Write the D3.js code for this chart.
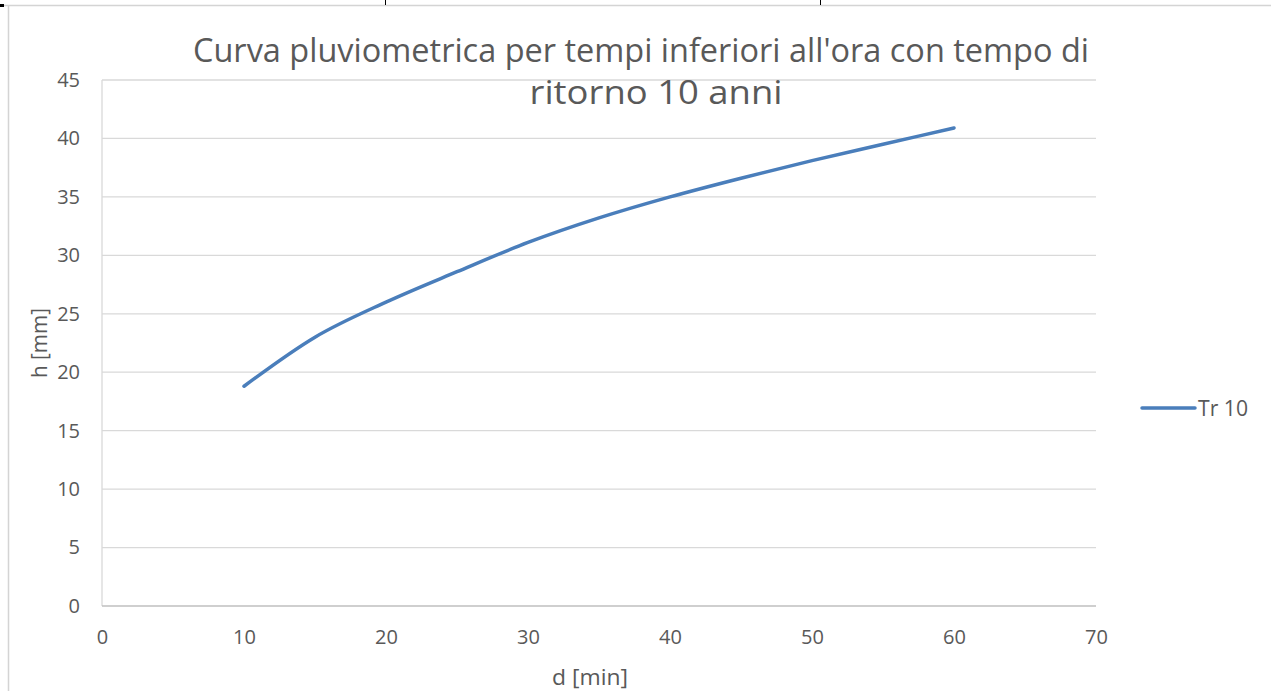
<!DOCTYPE html>
<html>
<head>
<meta charset="utf-8">
<script src="https://cdn.jsdelivr.net/npm/d3@7"></script>
<style>
  body { margin: 0; background: #fff; }
  text { font-family: "Open Sans", "Noto Sans", sans-serif; fill: #595959; }
</style>
</head>
<body>
<script>
// data
var durations = [10, 15, 20, 25, 30, 35, 40, 45, 50, 55, 60];
var heights = [18.8, 23.0, 26.0, 28.6, 31.1, 33.2, 35.0, 36.6, 38.1, 39.5, 40.9];
var xTicks = [0, 10, 20, 30, 40, 50, 60, 70];
var yTicks = [0, 5, 10, 15, 20, 25, 30, 35, 40, 45];
var seriesName = "Tr 10";
var titleLines = ["Curva pluviometrica per tempi inferiori all'ora con tempo di", "ritorno 10 anni"];

var W = 1271, H = 691;
var svg = d3.select("body").append("svg")
  .attr("width", W)
  .attr("height", H);

// cell borders behind the chart
svg.append("line").attr("x1", 0).attr("x2", W).attr("y1", 5.5).attr("y2", 5.5)
  .attr("stroke", "#d4d4d4").attr("stroke-width", 1.5);
svg.append("line").attr("x1", 8.5).attr("x2", 8.5).attr("y1", 5).attr("y2", H)
  .attr("stroke", "#d4d4d4").attr("stroke-width", 1.5);
svg.append("rect").attr("x", 0).attr("y", 4).attr("width", 4).attr("height", 3).attr("fill", "#000");
[385, 820].forEach(function (x) {
  svg.append("line").attr("x1", x + 0.5).attr("x2", x + 0.5).attr("y1", 0).attr("y2", 5)
    .attr("stroke", "#000").attr("stroke-width", 1);
});

var x = d3.scaleLinear().domain([0, 70]).range([102, 1096]);
var y = d3.scaleLinear().domain([0, 45]).range([606, 80]);

// gridlines
svg.append("g").selectAll("line")
  .data(yTicks.slice(1))
  .enter().append("line")
  .attr("x1", x(0)).attr("x2", x(70))
  .attr("y1", function (d) { return y(d); })
  .attr("y2", function (d) { return y(d); })
  .attr("stroke", "#d9d9d9").attr("stroke-width", 1.3);

// axes lines
svg.append("line").attr("x1", x(0)).attr("x2", x(0)).attr("y1", y(0)).attr("y2", y(45))
  .attr("stroke", "#d9d9d9").attr("stroke-width", 1.3);
svg.append("line").attr("x1", x(0)).attr("x2", x(70)).attr("y1", y(0)).attr("y2", y(0))
  .attr("stroke", "#bfbfbf").attr("stroke-width", 1.3);

// tick labels
var xAxis = d3.axisBottom(x).tickValues(xTicks).tickSize(0).tickPadding(24);
var gx = svg.append("g").attr("transform", "translate(0," + y(0) + ")").call(xAxis);
gx.select(".domain").remove();

var yAxis = d3.axisLeft(y).tickValues(yTicks).tickSize(0).tickPadding(22);
var gy = svg.append("g").attr("transform", "translate(" + x(0) + ",0)").call(yAxis);
gy.select(".domain").remove();

gx.attr("font-family", null);
gy.attr("font-family", null);
svg.selectAll(".tick text").style("font-size", "20px").attr("fill", "#595959");

// series line
var pts = durations.map(function (d, i) { return [d, heights[i]]; });
var line = d3.line()
  .x(function (d) { return x(d[0]); })
  .y(function (d) { return y(d[1]); })
  .curve(d3.curveMonotoneX);
svg.append("path").datum(pts)
  .attr("d", line)
  .attr("fill", "none")
  .attr("stroke", "#4a7ebb")
  .attr("stroke-width", 3.5)
  .attr("stroke-linecap", "round")
  .attr("stroke-linejoin", "round");

// title
svg.append("text").attr("x", 641).attr("y", 62).attr("text-anchor", "middle")
  .style("font-size", "32px")
  .attr("textLength", 896).attr("lengthAdjust", "spacingAndGlyphs")
  .text(titleLines[0]);
svg.append("text").attr("x", 656).attr("y", 104).attr("text-anchor", "middle")
  .style("font-size", "32px")
  .attr("textLength", 253).attr("lengthAdjust", "spacingAndGlyphs")
  .text(titleLines[1]);

// axis titles
svg.append("text").attr("transform", "translate(47,343) rotate(-90)")
  .attr("text-anchor", "middle").style("font-size", "22px")
  .attr("textLength", 70).attr("lengthAdjust", "spacingAndGlyphs").text("h [mm]");
svg.append("text").attr("x", 590).attr("y", 685)
  .attr("text-anchor", "middle").style("font-size", "22px")
  .attr("textLength", 76).attr("lengthAdjust", "spacingAndGlyphs").text("d [min]");

// legend
svg.append("line").attr("x1", 1142).attr("x2", 1195).attr("y1", 408).attr("y2", 408)
  .attr("stroke", "#4a7ebb").attr("stroke-width", 3.5).attr("stroke-linecap", "round");
svg.append("text").attr("x", 1198).attr("y", 416).style("font-size", "21px")
  .attr("textLength", 50).attr("lengthAdjust", "spacingAndGlyphs").text(seriesName);
</script>
</body>
</html>
